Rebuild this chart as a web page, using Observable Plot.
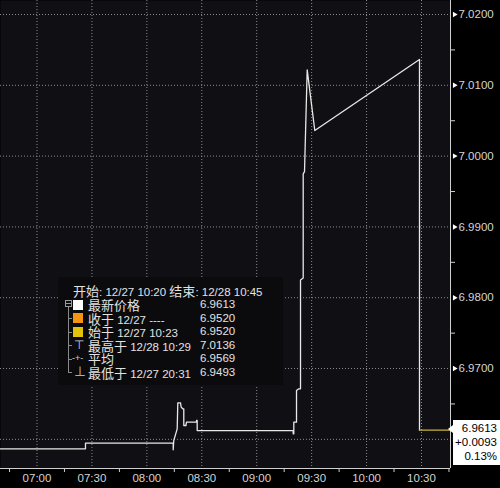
<!DOCTYPE html>
<html><head><meta charset="utf-8">
<script src="https://cdn.jsdelivr.net/npm/d3@7"></script>
<script src="https://cdn.jsdelivr.net/npm/@observablehq/plot@0.6"></script>
<style>
body{margin:0;background:#000;}
#wrap{position:relative;width:500px;height:488px;overflow:hidden;background:#000;}
.lg{position:absolute;white-space:nowrap;color:#e2e2e2;font-family:"Liberation Sans",Arial,"Noto Sans CJK SC",sans-serif;font-size:11.5px;line-height:13px;height:13px;}
.cjk{font-family:"Noto Sans CJK SC",sans-serif;font-size:13px;line-height:1;}
</style></head><body><div id="wrap"></div>
<script>
// ---- data ----
const times = ["06:40:00","07:26:29","07:26:29","08:14:23","08:14:23","08:14:42","08:16:34","08:16:54","08:18:22","08:18:45","08:19:38","08:20:10","08:20:10","08:21:20","08:21:39","08:27:07","08:27:07","08:27:29","08:27:29","09:19:55","09:19:55","09:20:15","09:20:15","09:21:44","09:21:44","09:22:59","09:23:55","09:23:55","09:25:23","09:25:23","09:26:06","09:27:34","09:31:43","10:28:54","10:28:54"];
const prices = [6.95866,6.95866,6.95945,6.95945,6.95852,6.95983,6.96148,6.96516,6.96516,6.96453,6.96431,6.96431,6.96195,6.96195,6.96242,6.96242,6.96266,6.96266,6.96124,6.96124,6.96078,6.96078,6.96242,6.96242,6.96689,6.96713,6.96713,6.98250,6.98280,6.99750,6.99780,7.01219,7.00362,7.01364,6.96130];
const lastTimes = ["10:28:54","10:45:50"];
const lastPrices = [6.9613, 6.9613];
const yTicks = [6.96, 6.97, 6.98, 6.99, 7.00, 7.01, 7.02];
const yLabelTicks = [6.97, 6.98, 6.99, 7.00, 7.01, 7.02];
const yMinorTicks = [6.965, 6.975, 6.985, 6.995, 7.005, 7.015];
const xLabelTicks = ["07:00","07:30","08:00","08:30","09:00","09:30","10:00","10:30"];
const xMinorTicks = ["06:45","07:15","07:45","08:15","08:45","09:15","09:45","10:15","10:45"];
const xDomain = ["06:40:04","10:45:50"];
const yDomain = [6.95588, 7.02198];
const legendHeader = "开始: 12/27 10:20 结束: 12/28 10:45";
const legendLabels = ["最新价格","收于 12/27 ----","始于 12/27 10:23","最高于 12/28 10:29","平均","最低于 12/27 20:31"];
const legendValues = ["6.9613","6.9520","6.9520","7.0136","6.9569","6.9493"];
const legendColors = ["#ffffff","#f5940f","#e3c20a",null,null,null];
const legendIcons = [null,null,null,"⊤","-+-","⊥"];
const lastLabel = ["6.9613","+0.0093","0.13%"];

const parse = t => new Date(`2018-12-28T${t.length===5 ? t+":00" : t}Z`);
const data = times.map((t,i)=>({t:parse(t), v:prices[i]}));
const lastData = lastTimes.map((t,i)=>({t:parse(t), v:lastPrices[i]}));

const chart = Plot.plot({
  width:500, height:488, marginLeft:0, marginRight:50, marginTop:0, marginBottom:20,
  style:{background:"#000", color:"#d4d4d4", fontFamily:"Liberation Sans, Arial, sans-serif", fontSize:"11.5px"},
  x:{type:"utc", domain:xDomain.map(parse)},
  y:{domain:yDomain},
  marks:[
    Plot.frame({fill:"#101014", stroke:null}),
    Plot.gridX(xLabelTicks.map(parse), {stroke:"#8c8c8c", strokeOpacity:1, strokeDasharray:"1,2"}),
    Plot.gridY(yTicks, {stroke:"#8c8c8c", strokeOpacity:1, strokeDasharray:"1,2"}),
    Plot.ruleY([yDomain[0]], {stroke:"#cfcfcf"}),
    Plot.ruleX([parse(xDomain[1])], {stroke:"#cfcfcf"}),
    Plot.axisX(xLabelTicks.map(parse), {tickSize:0, tickPadding:5, tickFormat:d3.utcFormat("%H:%M"), fill:"#d4d4d4", label:null}),
    Plot.axisX(xMinorTicks.map(parse), {tickSize:4, tickFormat:()=>"", stroke:"#cfcfcf", label:null}),
    Plot.axisY(yLabelTicks, {anchor:"right", tickSize:0, tickPadding:8, tickFormat:d=>d.toFixed(4), fill:"#d4d4d4", label:null}),
    Plot.axisY(yMinorTicks, {anchor:"right", tickSize:4, tickFormat:()=>"", stroke:"#cfcfcf", label:null}),
    Plot.dot(yTicks, {y:d=>d, frameAnchor:"right", dx:4, symbol:"triangle2", rotate:90, r:2.6, fill:"#ffffff"}),
    Plot.line(data, {x:"t", y:"v", stroke:"#e8e8e8", strokeWidth:1.3}),
    Plot.line(lastData, {x:"t", y:"v", stroke:"#c8b43c", strokeWidth:1.3})
  ]
});
const wrap = document.getElementById("wrap");
wrap.appendChild(chart);

// ---- legend overlay ----
function el(tag, css, html){const e=document.createElement(tag); e.style.cssText=css; if(html!=null) e.innerHTML=html; wrap.appendChild(e); return e;}
const cjkWrap = s => s.replace(/([\u4e00-\u9fff]+)/g,'<span class="cjk">$1</span>');
el("div","position:absolute;left:58px;top:277px;width:225px;height:108px;background:#0b0b0e;");
const h = el("div","", cjkWrap(legendHeader)); h.className="lg"; h.style.left="73px"; h.style.top="284px";
// tree
el("div","position:absolute;left:65px;top:300px;width:5px;height:5px;border:1px solid #9a9a9a;");
el("div","position:absolute;left:66px;top:303px;width:5px;height:1px;background:#9a9a9a;");
el("div","position:absolute;left:68px;top:307px;width:1px;height:65px;background:#8a8a8a;");
legendLabels.forEach((lab,i)=>{
  const top = 298 + i*13.5;
  const cy = top + 6.5;
  if(i>0) el("div",`position:absolute;left:68px;top:${cy}px;width:4px;height:1px;background:#8a8a8a;`);
  if(legendColors[i]) el("div",`position:absolute;left:73px;top:${cy-5}px;width:10px;height:10px;background:${legendColors[i]};`);
  if(legendIcons[i]) { const ic = el("div","", legendIcons[i]); ic.className="lg"; ic.style.left=(legendIcons[i].length>1?72:74)+"px"; ic.style.top=top+"px"; ic.style.color="#cfcfcf"; ic.style.fontSize=legendIcons[i].length>1?"9px":"12px"; }
  const l = el("div","", cjkWrap(lab)); l.className="lg"; l.style.left="88px"; l.style.top=top+"px";
  const v = el("div","", legendValues[i]); v.className="lg"; v.style.left="200px"; v.style.top=top+"px";
});

// ---- last value box ----
const yl = chart.scale("y").apply(lastPrices[1]);
el("div",`position:absolute;left:453px;top:${yl-9.5}px;width:47px;height:45px;background:#fff;`);
el("div",`position:absolute;left:448px;top:${yl-4.5}px;width:0;height:0;border-top:4.5px solid transparent;border-bottom:4.5px solid transparent;border-right:5px solid #fff;`);
lastLabel.forEach((s,i)=>{
  el("div",`position:absolute;right:3px;top:${yl-9.5+1+i*14}px;height:14px;color:#000;font-family:'Liberation Sans',Arial,sans-serif;font-size:11.5px;line-height:14px;text-align:right;`, s);
});
</script></body></html>
